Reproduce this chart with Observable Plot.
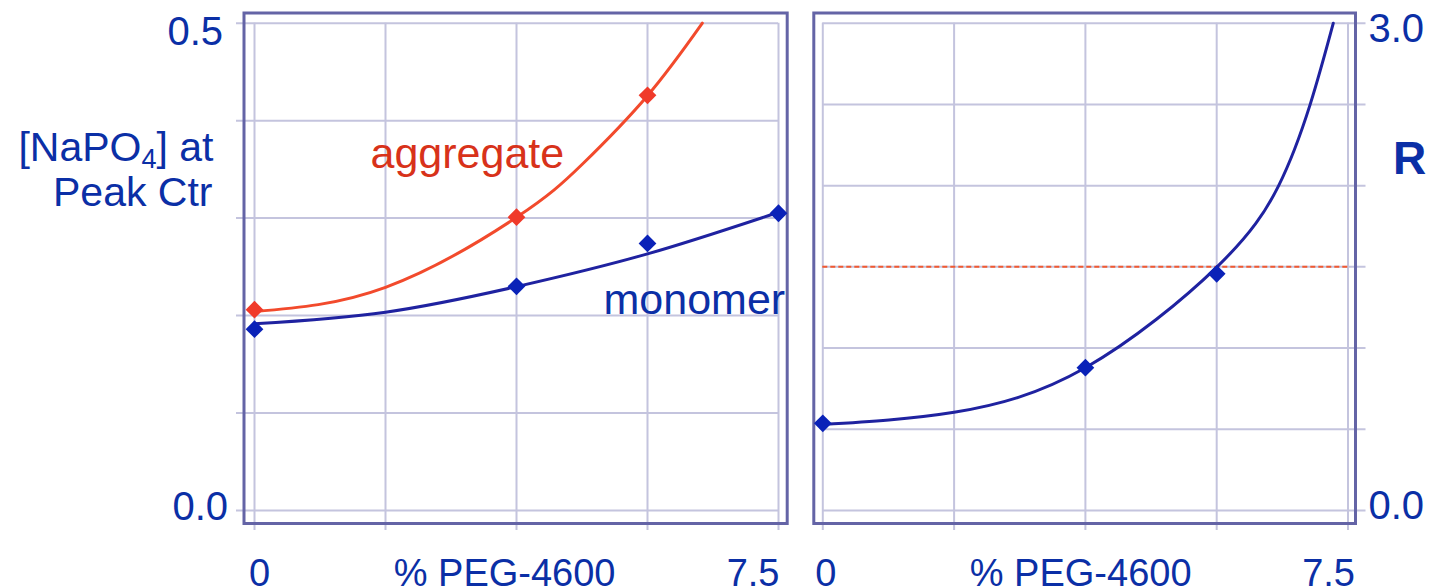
<!DOCTYPE html>
<html><head><meta charset="utf-8">
<script src="https://cdn.jsdelivr.net/npm/d3@7"></script>
<script src="https://cdn.jsdelivr.net/npm/@observablehq/plot@0.6"></script>
<style>
html,body{margin:0;padding:0;background:#fff;}
#wrap{display:flex;width:1432px;height:587px;overflow:hidden;}
#wrap svg{display:block;flex:none;}
</style></head><body><div id="wrap"></div>
<script>
// ---- grid / tick values ----
const pegGrid = [0, 1.875, 3.75, 5.625, 7.5];
const concGrid = [0, 0.1, 0.2, 0.3, 0.4, 0.5];
const rGrid = [0, 0.5, 1, 1.5, 2, 2.5, 3];
const pegTicks = [0, 7.5];
const pegTickLabels = ["0", "7.5"];
const concTicks = [0.5, 0];
const concTickLabels = ["0.5", "0.0"];
const rTicks = [3, 0];
const rTickLabels = ["3.0", "0.0"];

// ---- measured points ----
const monomerPeg = [0, 3.75, 5.625, 7.5];
const monomerConc = [0.186, 0.230, 0.274, 0.305];
const aggregatePeg = [0, 3.75, 5.625];
const aggregateConc = [0.206, 0.301, 0.426];
const ratioPeg = [0, 3.75, 5.625];
const ratioR = [0.537, 0.879, 1.457];

// ---- fitted curves ----
const monomerFitPeg = [0, 1.875, 3.75, 5.625, 7.5];
const monomerFitConc = [0.1915, 0.2035, 0.2297, 0.2633, 0.306];
const aggregateFitPeg = [0, 1.875, 3.75, 4.6875, 5.625, 6.41];
const aggregateFitConc = [0.2041, 0.229, 0.3008, 0.355, 0.4256, 0.5];
const ratioFitPeg = [0, 1.875, 3.75, 5.63, 6.51, 6.96, 7.29];
const ratioFitR = [0.53, 0.605, 0.879, 1.5, 2.0, 2.5, 3.0];
const ratioThreshold = [1.5];

// ---- texts ----
const yLabelLines = ["[NaPO4] at", "Peak Ctr"];
const xTitle = "% PEG-4600";
const seriesLabels = ["aggregate", "monomer"];
const rLabel = "R";

// ---- styles ----
const font = "'Liberation Sans', Arial, Helvetica, sans-serif";
const blueText = "#0b2fa6";
const redText = "#d8321a";
const blueLine = "#1f22a0";
const redLine = "#f24a2c";
const blueDot = "#0a22b8";
const redDot = "#f03a2a";
const gridColor = "#c4c4de";
const frameColor = "#6464a6";

const xy = (xs, ys) => xs.map((x, i) => ({x, y: ys[i]}));

const left = Plot.plot({
  width: 800, height: 587,
  marginLeft: 243.5, marginRight: 13.3, marginTop: 12.5, marginBottom: 64,
  x: {domain: [0, 7.5], insetLeft: 10.5, insetRight: 8.7, axis: null},
  y: {domain: [0, 0.5], insetTop: 10.2, insetBottom: 13, axis: null},
  style: {fontFamily: font, background: "white"},
  marks: [
    Plot.ruleX(pegGrid, {x: d => d, y1: 0.5, y2: 0, insetBottom: -20, stroke: gridColor, strokeWidth: 2}),
    Plot.ruleY(concGrid, {y: d => d, x1: 0, x2: 7.5, insetLeft: -18, stroke: gridColor, strokeWidth: 2}),
    Plot.frame({stroke: frameColor, strokeWidth: 3}),
    Plot.line(xy(aggregateFitPeg, aggregateFitConc), {x: "x", y: "y", curve: "natural", stroke: redLine, strokeWidth: 3}),
    Plot.line(xy(monomerFitPeg, monomerFitConc), {x: "x", y: "y", curve: "natural", stroke: blueLine, strokeWidth: 3}),
    Plot.dot(xy(aggregatePeg, aggregateConc), {x: "x", y: "y", symbol: "diamond2", r: 8, fill: redDot}),
    Plot.dot(xy(monomerPeg, monomerConc), {x: "x", y: "y", symbol: "diamond2", r: 8, fill: blueDot}),
    // y tick labels
    Plot.text([0], {y: () => concTicks[0], text: () => concTickLabels[0], frameAnchor: "left", textAnchor: "end", lineAnchor: "bottom", dx: -21, dy: 22, fontSize: 40, fill: blueText}),
    Plot.text([0], {y: () => concTicks[1], text: () => concTickLabels[1], frameAnchor: "left", textAnchor: "end", lineAnchor: "bottom", dx: -16, dy: 9, fontSize: 40, fill: blueText}),
    // x tick labels
    Plot.text([0], {x: () => pegTicks[0], text: () => pegTickLabels[0], frameAnchor: "bottom", textAnchor: "middle", lineAnchor: "bottom", dx: 5, dy: 62, fontSize: 38, fill: blueText}),
    Plot.text([0], {x: () => pegTicks[1], text: () => pegTickLabels[1], frameAnchor: "bottom", textAnchor: "end", lineAnchor: "bottom", dx: 1, dy: 62, fontSize: 38, fill: blueText}),
    Plot.text([xTitle], {text: d => d, frameAnchor: "bottom", textAnchor: "middle", lineAnchor: "bottom", dx: -11, dy: 62, fontSize: 38, fill: blueText}),
    // y axis label
    Plot.text([yLabelLines[0]], {text: d => d, frameAnchor: "top-left", textAnchor: "end", lineAnchor: "bottom", dx: -30.5, dy: 147.5, fontSize: 41, fill: blueText}),
    Plot.text([yLabelLines[1]], {text: d => d, frameAnchor: "top-left", textAnchor: "end", lineAnchor: "bottom", dx: -31.5, dy: 192.5, fontSize: 41, fill: blueText}),
    // series labels
    Plot.text([seriesLabels[0]], {text: d => d, frameAnchor: "top-left", textAnchor: "start", lineAnchor: "bottom", dx: 126.5, dy: 154.5, fontSize: 43, fill: redText}),
    Plot.text([seriesLabels[1]], {text: d => d, frameAnchor: "top-left", textAnchor: "start", lineAnchor: "bottom", dx: 359.5, dy: 300.5, fontSize: 43, fill: blueText})
  ]
});

const right = Plot.plot({
  width: 632, height: 587,
  marginLeft: 13.3, marginRight: 77, marginTop: 12.5, marginBottom: 64,
  x: {domain: [0, 7.5], insetLeft: 9, insetRight: 7.5, axis: null},
  y: {domain: [0, 3], insetTop: 10.2, insetBottom: 13, axis: null},
  style: {fontFamily: font, background: "white"},
  marks: [
    Plot.ruleX(pegGrid, {x: d => d, y1: 3, y2: 0, insetBottom: -20, stroke: gridColor, strokeWidth: 2}),
    Plot.ruleY(rGrid, {y: d => d, x1: 0, x2: 7.5, insetRight: -18, stroke: gridColor, strokeWidth: 2}),
    Plot.frame({stroke: frameColor, strokeWidth: 3}),
    Plot.ruleY(ratioThreshold, {y: d => d, x1: 0, x2: 7.5, stroke: "#f25a30", strokeWidth: 2, strokeDasharray: "5,3"}),
    Plot.line(xy(ratioFitPeg, ratioFitR), {x: "x", y: "y", curve: "natural", stroke: blueLine, strokeWidth: 3}),
    Plot.dot(xy(ratioPeg, ratioR), {x: "x", y: "y", symbol: "diamond2", r: 8, fill: blueDot}),
    // y tick labels (right side)
    Plot.text([0], {y: () => rTicks[0], text: () => rTickLabels[0], frameAnchor: "right", textAnchor: "start", lineAnchor: "bottom", dx: 13, dy: 19, fontSize: 40, fill: blueText}),
    Plot.text([0], {y: () => rTicks[1], text: () => rTickLabels[1], frameAnchor: "right", textAnchor: "start", lineAnchor: "bottom", dx: 13, dy: 8, fontSize: 40, fill: blueText}),
    // x tick labels
    Plot.text([0], {x: () => pegTicks[0], text: () => pegTickLabels[0], frameAnchor: "bottom", textAnchor: "middle", lineAnchor: "bottom", dx: 3, dy: 62, fontSize: 38, fill: blueText}),
    Plot.text([0], {x: () => pegTicks[1], text: () => pegTickLabels[1], frameAnchor: "bottom", textAnchor: "end", lineAnchor: "bottom", dx: 7, dy: 62, fontSize: 38, fill: blueText}),
    Plot.text([xTitle], {text: d => d, frameAnchor: "bottom", textAnchor: "middle", lineAnchor: "bottom", dx: -4, dy: 62, fontSize: 38, fill: blueText}),
    // R label
    Plot.text([rLabel], {text: d => d, frameAnchor: "top-right", textAnchor: "middle", lineAnchor: "bottom", dx: 54, dy: 160.8, fontSize: 46, fontWeight: "bold", fill: blueText})
  ]
});

// subscript in "[NaPO4] at"
left.querySelectorAll("text").forEach(t => {
  if (t.textContent === yLabelLines[0]) {
    t.textContent = "";
    const ns = "http://www.w3.org/2000/svg";
    const a = document.createElementNS(ns, "tspan"); a.textContent = "[NaPO";
    const b = document.createElementNS(ns, "tspan"); b.textContent = "4"; b.setAttribute("font-size", "27"); b.setAttribute("dy", "7");
    const c = document.createElementNS(ns, "tspan"); c.textContent = "] at"; c.setAttribute("dy", "-7");
    t.append(a, b, c);
  }
});

document.getElementById("wrap").append(left, right);
</script>
</body></html>
